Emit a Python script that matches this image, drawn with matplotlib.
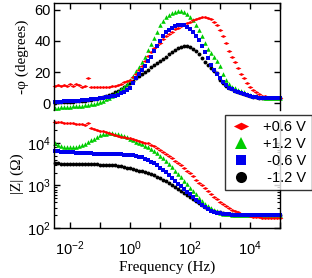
import numpy as np
import matplotlib
matplotlib.use("Agg")
import matplotlib.pyplot as plt
from matplotlib.lines import Line2D
from matplotlib.ticker import LogLocator, NullLocator, NullFormatter, FixedLocator

# ---------------- data ----------------
freq = np.logspace(-2.5, 5.0, 76)   # Hz, measurement sweep (10 points/decade)

labels = ["+0.6 V", "+1.2 V", " -0.6 V", " -1.2 V"]
colors = ["#ff0000", "#00cc00", "#0000ee", "#000000"]

phase_p06 = [11.0, 11.5, 10.8, 11.8, 11.2, 12.0, 11.0, 12.5, 11.5, 10.5,
             11.0, 16.0, 10.5, 10.2, 10.2, 10.3, 10.3, 10.4, 10.6, 10.8,
             11.2, 11.8, 12.5, 13.3, 14.2, 15.0, 16.5, 18.5, 21.0, 24.0,
             27.0, 30.5, 33.0, 35.5, 37.5, 39.0, 41.0, 43.0, 44.5, 46.0,
             47.5, 48.5, 49.5, 50.5, 51.5, 52.5, 53.5, 54.5, 55.0, 55.5,
             55.5, 55.0, 54.0, 52.5, 50.0, 47.0, 43.0, 38.5, 33.5, 29.5,
             26.5, 22.5, 19.0, 16.0, 13.0, 10.5, 8.5, 7.0, 5.5, 4.8,
             4.3, 4.0, 3.8, 3.5, 3.2, 3.0]
phase_p12 = [-3.0, -2.9, -2.8, -2.7, -2.5, -2.4, -2.2, -2.0, -1.8, -1.6,
             -1.4, -1.1, -0.8, -0.4, 0.1, 0.7, 1.5, 2.3, 3.3, 4.5,
             5.8, 7.2, 8.8, 10.5, 12.5, 15.0, 17.5, 20.5, 23.5, 26.5,
             30.0, 34.0, 38.0, 42.0, 46.0, 50.0, 53.0, 55.3, 57.0, 58.2,
             59.0, 59.5, 59.5, 58.8, 57.5, 55.7, 53.3, 50.5, 47.0, 43.0,
             39.0, 35.0, 32.0, 29.5, 27.0, 24.0, 19.0, 15.0, 12.0, 10.5,
             9.5, 8.5, 7.5, 6.8, 6.0, 5.3, 4.8, 4.3, 3.9, 3.6,
             3.4, 3.2, 3.1, 3.0, 3.0, 3.0]
phase_m06 = [0.6, 0.8, 0.9, 1.0, 1.1, 1.2, 1.3, 1.5, 1.6, 1.8,
             2.0, 2.2, 2.4, 2.6, 2.8, 3.0, 3.3, 3.6, 3.9, 4.3,
             4.8, 5.4, 6.2, 7.2, 8.5, 10.0, 13.0, 16.0, 19.0, 21.5,
             24.0, 27.0, 30.0, 33.5, 37.0, 40.0, 43.0, 45.5, 47.3, 48.7,
             49.7, 50.3, 50.5, 50.3, 49.3, 48.0, 46.0, 43.5, 40.5, 37.0,
             33.0, 29.0, 24.5, 21.0, 18.5, 16.0, 13.5, 11.5, 10.0, 8.8,
             7.8, 7.0, 6.2, 5.6, 5.0, 4.5, 4.1, 3.8, 3.5, 3.3,
             3.2, 3.1, 3.0, 3.0, 3.0, 3.0]
phase_m12 = [0.3, 0.4, 0.5, 0.6, 0.7, 0.8, 0.9, 1.0, 1.2, 1.4,
             1.6, 1.8, 2.1, 2.5, 2.9, 3.4, 4.0, 4.6, 5.2, 6.0,
             6.8, 7.8, 8.9, 10.2, 11.5, 13.0, 14.5, 16.0, 17.5, 19.0,
             20.3, 21.6, 23.0, 24.3, 25.7, 27.0, 28.5, 30.0, 31.5, 33.0,
             34.2, 35.3, 36.2, 36.8, 36.8, 36.3, 35.0, 33.5, 31.5, 29.0,
             26.7, 24.5, 22.5, 20.5, 19.5, 15.0, 12.8, 11.0, 9.8, 8.8,
             7.9, 7.0, 6.2, 5.5, 5.0, 4.5, 4.1, 3.8, 3.5, 3.3,
             3.2, 3.1, 3.0, 3.0, 3.0, 3.0]

# log10(|Z| / Ohm)
logZ_p06 = [4.50, 4.49, 4.49, 4.48, 4.47, 4.46, 4.46, 4.45, 4.45, 4.44,
            4.43, 4.46, 4.35, 4.33, 4.31, 4.29, 4.27, 4.25, 4.23, 4.21,
            4.19, 4.17, 4.15, 4.14, 4.12, 4.11, 4.09, 4.07, 4.05, 4.03,
            4.01, 3.99, 3.96, 3.92, 3.88, 3.84, 3.79, 3.74, 3.69, 3.64,
            3.58, 3.52, 3.47, 3.41, 3.35, 3.29, 3.22, 3.14, 3.07, 3.00,
            2.93, 2.87, 2.80, 2.74, 2.68, 2.62, 2.57, 2.52, 2.47, 2.43,
            2.40, 2.37, 2.34, 2.32, 2.30, 2.28, 2.27, 2.26, 2.25, 2.24,
            2.23, 2.23, 2.23, 2.23, 2.23, 2.23]
logZ_p12 = [3.99, 3.95, 3.92, 3.91, 3.90, 3.90, 3.90, 3.91, 3.93, 3.95,
            3.98, 4.02, 4.06, 4.10, 4.14, 4.18, 4.20, 4.22, 4.23, 4.23,
            4.22, 4.21, 4.19, 4.16, 4.13, 4.10, 4.07, 4.03, 4.00, 3.97,
            3.94, 3.90, 3.86, 3.81, 3.76, 3.70, 3.64, 3.57, 3.50, 3.43,
            3.35, 3.27, 3.19, 3.11, 3.03, 2.95, 2.87, 2.79, 2.71, 2.64,
            2.57, 2.51, 2.46, 2.42, 2.39, 2.36, 2.34, 2.33, 2.32, 2.31,
            2.31, 2.31, 2.31, 2.31, 2.31, 2.31, 2.31, 2.31, 2.31, 2.31,
            2.31, 2.31, 2.31, 2.31, 2.31, 2.31]
logZ_m06 = [3.80, 3.80, 3.79, 3.79, 3.78, 3.78, 3.78, 3.77, 3.77, 3.77,
            3.76, 3.76, 3.76, 3.75, 3.75, 3.75, 3.75, 3.74, 3.74, 3.74,
            3.73, 3.73, 3.73, 3.72, 3.72, 3.72, 3.71, 3.70, 3.68, 3.66,
            3.63, 3.60, 3.56, 3.52, 3.47, 3.42, 3.37, 3.31, 3.25, 3.18,
            3.11, 3.04, 2.98, 2.91, 2.85, 2.79, 2.72, 2.66, 2.60, 2.54,
            2.49, 2.45, 2.41, 2.38, 2.36, 2.35, 2.34, 2.33, 2.32, 2.31,
            2.31, 2.31, 2.31, 2.31, 2.31, 2.31, 2.31, 2.31, 2.31, 2.31,
            2.31, 2.31, 2.31, 2.31, 2.31, 2.31]
logZ_m12 = [3.52, 3.52, 3.51, 3.51, 3.50, 3.50, 3.50, 3.50, 3.50, 3.50,
            3.50, 3.50, 3.50, 3.50, 3.50, 3.49, 3.49, 3.49, 3.49, 3.48,
            3.47, 3.46, 3.45, 3.43, 3.42, 3.40, 3.38, 3.36, 3.35, 3.33,
            3.31, 3.29, 3.27, 3.24, 3.21, 3.18, 3.14, 3.10, 3.06, 3.02,
            2.97, 2.92, 2.87, 2.82, 2.77, 2.73, 2.68, 2.63, 2.58, 2.54,
            2.50, 2.46, 2.43, 2.40, 2.38, 2.37, 2.35, 2.34, 2.33, 2.32,
            2.31, 2.31, 2.31, 2.31, 2.31, 2.31, 2.31, 2.31, 2.31, 2.31,
            2.31, 2.31, 2.31, 2.31, 2.31, 2.31]

phase_ticks = [0, 20, 40, 60]
x_decades = [-2, -1, 0, 1, 2, 3, 4, 5]
x_labeled = [-2, 0, 2, 4]

# ---------------- style ----------------
plt.rcParams["font.family"] = ["Liberation Sans", "DejaVu Sans"]
plt.rcParams["mathtext.fontset"] = "custom"
plt.rcParams["mathtext.rm"] = "Liberation Sans"
plt.rcParams["mathtext.default"] = "regular"
plt.rcParams["axes.linewidth"] = 1.0

wide_diamond = [(-1, 0), (0, 0.5), (1, 0), (0, -0.5), (-1, 0)]
markers = [wide_diamond, "^", "s", "o"]
msizes = [4.2, 3.3, 3.0, 2.8]
order = [3, 1, 0, 2]

fig = plt.figure(figsize=(3.12, 2.78), dpi=100)
ax1 = fig.add_axes([0.1715, 0.6043, 0.726, 0.3849])
ax2 = fig.add_axes([0.1715, 0.1799, 0.726, 0.3884])

phases = [phase_p06, phase_p12, phase_m06, phase_m12]
logZs = [logZ_p06, logZ_p12, logZ_m06, logZ_m12]

for i in order:
    ax1.plot(freq, phases[i], linestyle="none", marker=markers[i], ms=msizes[i],
             mfc=colors[i], mec=colors[i], mew=0, clip_on=False)
    ax2.plot(freq, 10 ** np.asarray(logZs[i]), linestyle="none", marker=markers[i],
             ms=msizes[i], mfc=colors[i], mec=colors[i], mew=0, clip_on=False)

xlim = (10 ** -2.55, 1e5)
serif = ["Liberation Serif", "DejaVu Serif"]

# top panel
ax1.set_xscale("log")
ax1.set_xlim(*xlim)
ax1.set_ylim(-4.5, 64.5)
ax1.spines["bottom"].set_visible(False)
ax1.xaxis.set_major_locator(FixedLocator([10.0 ** d for d in x_decades]))
ax1.xaxis.set_minor_locator(NullLocator())
ax1.set_yticks(phase_ticks)
ax1.tick_params(axis="x", which="both", direction="in", top=True, bottom=False,
                labelbottom=False, labeltop=False, length=4.5, width=1.0)
ax1.tick_params(axis="y", direction="in", left=True, right=True, length=4.5,
                width=1.0, labelsize=10.5, pad=2)
ax1.set_ylabel("-\u03c6 (degrees)", family=serif, fontsize=11, labelpad=4)

# bottom panel
ax2.set_xscale("log")
ax2.set_yscale("log")
ax2.set_xlim(*xlim)
ax2.set_ylim(100, 10 ** 4.54)
ax2.spines["top"].set_visible(False)
ax2.xaxis.set_major_locator(FixedLocator([10.0 ** d for d in x_decades]))
ax2.xaxis.set_minor_locator(NullLocator())
ax2.set_xticklabels([("$10^{%d}$" % d) if d in x_labeled else "" for d in x_decades])
ax2.yaxis.set_major_locator(LogLocator(base=10))
ax2.yaxis.set_minor_locator(LogLocator(base=10, subs=np.arange(2, 10)))
ax2.yaxis.set_minor_formatter(NullFormatter())
ax2.tick_params(axis="x", which="both", direction="in", top=False, bottom=True,
                length=4.5, width=1.0, labelsize=10.5, pad=8)
ax2.tick_params(axis="y", which="major", direction="in", left=True, right=True,
                length=4.5, width=1.0, labelsize=10.5, pad=2)
ax2.tick_params(axis="y", which="minor", direction="in", left=True, right=True,
                length=2.5, width=0.8)
ax2.set_ylabel("|Z| (\u03a9)", family=serif, fontsize=11, labelpad=2)
ax2.set_xlabel("Frequency (Hz)", family=serif, fontsize=11, labelpad=2)

# legend
handles = [Line2D([], [], linestyle="none", marker=markers[i], color=colors[i],
                  mec=colors[i], ms=[11, 9, 7.5, 8][i], mew=0) for i in range(4)]
leg = fig.legend(handles, labels, loc="upper right",
                 bbox_to_anchor=(311.5 / 312, 1 - 115 / 278),
                 bbox_transform=fig.transFigure, frameon=True, fancybox=False,
                 fontsize=10.5, handlelength=1.5, handletextpad=0.8,
                 borderpad=0.35, labelspacing=0.2, borderaxespad=0)
leg.get_frame().set_edgecolor("black")
leg.get_frame().set_linewidth(1.0)
leg.set_zorder(10)

fig.savefig("out.png", dpi=100)
